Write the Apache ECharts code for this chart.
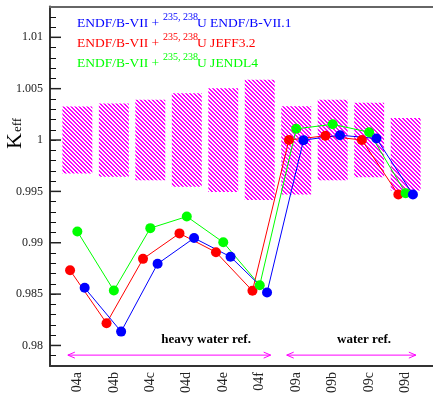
<!DOCTYPE html>
<html><head><meta charset="utf-8">
<script src="https://cdn.jsdelivr.net/npm/echarts@6/dist/echarts.min.js"></script>
<style>html,body{margin:0;padding:0;background:#fff}#c{width:433px;height:396px}</style>
</head><body><div id="c"></div>
<script>
const categories = ['04a','04b','04c','04d','04e','04f','09a','09b','09c','09d'];
const endfValues  = [0.98561,0.98135,0.98795,0.99046,0.98863,0.98516,0.99999,1.00047,1.00015,0.99469];
const jeffValues  = [0.98732,0.98217,0.98843,0.99091,0.98908,0.98532,1.00000,1.00041,1.00000,0.99469];
const jendlValues = [0.99110,0.98535,0.99142,0.99255,0.99004,0.98587,1.00109,1.00153,1.00076,0.99483];
const expLow  = [0.99675,0.99643,0.99608,0.99544,0.99495,0.99415,0.99469,0.99608,0.99637,0.99508];
const expHigh = [1.00326,1.00355,1.00391,1.00455,1.00504,1.00587,1.00330,1.00391,1.00362,1.00215];
const yTickValues = [0.98,0.985,0.99,0.995,1,1.005,1.01];
const yMinorTickValues = [0.979,0.981,0.982,0.983,0.984,0.986,0.987,0.988,0.989,0.991,0.992,0.993,0.994,
  0.996,0.997,0.998,0.999,1.001,1.002,1.003,1.004,1.006,1.007,1.008,1.009,1.011,1.012];
const regionNames = ['heavy water ref.','water ref.'];
const regionArrows = [[-0.26,5.30],[5.74,9.28]];
const regionLabelX = [3.53,7.86];
const arrowY = 0.97906;
const regionLabelY = 0.98059;
const X_MIN = -0.75, X_MAX = 9.75, Y_MIN = 0.978, Y_MAX = 1.013;

const FONT = "'Liberation Serif', 'Times New Roman', serif";
function makeHatch(){
  const c=document.createElement('canvas'); c.width=4; c.height=4;
  const g=c.getContext('2d'); g.fillStyle='#ff00ff';
  for(let i=0;i<4;i++){ g.fillRect(i,i,1,1); g.fillRect((i+1)%4,i,1,1); }
  return c;
}
const hatch = {image: makeHatch(), repeat:'repeat'};

const chart = echarts.init(document.getElementById('c'), null, {renderer:'canvas'});
function lineSeries(name, vals, off, color){
  return {name, type:'line', xAxisIndex:0, yAxisIndex:0,
    data: vals.map((v,i)=>[i+off, v]),
    symbol:'circle', symbolSize:10, showSymbol:true,
    lineStyle:{color, width:1}, itemStyle:{color}, z:5, clip:false, animation:false};
}
const legendLines = [
  {color:'#0000ff', tail:'U ENDF/B-VII.1'},
  {color:'#ff0000', tail:'U JEFF3.2'},
  {color:'#00ff00', tail:'U JENDL4'}
];
const graphics = [];
legendLines.forEach((l,k)=>{
  const y0 = 23.6 + 20*k;
  graphics.push({type:'text', x:77, y:y0, style:{text:'ENDF/B-VII +', fill:l.color, font:'13.5px '+FONT, textVerticalAlign:'middle', textAlign:'left'}});
  graphics.push({type:'text', x:163, y:y0-6.3, style:{text:'235, 238', fill:l.color, font:'10px '+FONT, textVerticalAlign:'middle', textAlign:'left'}});
  graphics.push({type:'text', x:197, y:y0, style:{text:l.tail, fill:l.color, font:'13.5px '+FONT, textVerticalAlign:'middle', textAlign:'left'}});
});
graphics.push({type:'group', x:15.5, y:135, rotation:Math.PI/2, children:[
  {type:'text', x:-6, y:0, style:{text:'K', fill:'#000', font:'22px '+FONT, textAlign:'center', textVerticalAlign:'middle'}},
  {type:'text', x:10, y:2.5, style:{text:'eff', fill:'#000', font:'13px '+FONT, textAlign:'center', textVerticalAlign:'middle'}}
]});

const allTicks = yTickValues.concat(yMinorTickValues).sort((a,b)=>a-b);
const option = {
  animation:false,
  backgroundColor:'#fff',
  grid:{left:50, top:6.5, width:385, height:363.3, containLabel:false},
  xAxis:[
    {type:'value', min:X_MIN, max:X_MAX, position:'bottom',
     axisLine:{show:true, onZero:false, lineStyle:{color:'#333', width:2}},
     axisTick:{show:false}, splitLine:{show:false},
     axisLabel:{customValues: categories.map((c,i)=>i), rotate:90, margin:6, padding:[0,0,9,0],
       formatter:(v)=>categories[Math.round(v)], fontFamily:FONT, fontSize:14, color:'#222'}},
    {type:'value', min:X_MIN, max:X_MAX, position:'top',
     axisLine:{show:true, onZero:false, lineStyle:{color:'#666', width:2}},
     axisTick:{show:false}, axisLabel:{show:false}, splitLine:{show:false}}
  ],
  yAxis:[
    {type:'value', min:Y_MIN, max:Y_MAX, position:'left',
     axisLine:{show:true, onZero:false, lineStyle:{color:'#333', width:2}},
     axisTick:{show:true, inside:true, length:6, customValues:allTicks, lineStyle:{color:'#111', width:1}},
     axisLabel:{customValues:yTickValues, margin:7, formatter:(v)=>String(+(+v).toFixed(3)), fontFamily:FONT, fontSize:12, color:'#222'},
     splitLine:{show:false}}
  ],
  graphic: graphics,
  series:[
    {type:'custom', xAxisIndex:0, yAxisIndex:0, z:1,
     data: categories.map((c,i)=>[i, expLow[i], expHigh[i]]),
     encode:{x:0, y:[1,2]},
     renderItem:(params, api)=>{
       const i=api.value(0);
       const p1=api.coord([i-0.41, api.value(2)]);
       const p2=api.coord([i+0.41, api.value(1)]);
       return {type:'rect', shape:{x:p1[0], y:p1[1], width:p2[0]-p1[0], height:p2[1]-p1[1]}, style:{fill:hatch}};
     }},
    lineSeries('JEFF3.2', jeffValues, -0.2, '#ff0000'),
    lineSeries('JENDL4', jendlValues, 0, '#00ff00'),
    lineSeries('ENDF/B-VII.1', endfValues, 0.2, '#0000ff'),
    {type:'custom', xAxisIndex:0, yAxisIndex:0, z:3, clip:false,
     data: regionArrows.map(r=>[r[0], r[1], arrowY]),
     renderItem:(params, api)=>{
       const a=api.coord([api.value(0), api.value(2)]);
       const b=api.coord([api.value(1), api.value(2)]);
       const st={stroke:'#ff00ff', lineWidth:1, fill:null};
       const kids=[
         {type:'line', shape:{x1:a[0], y1:a[1], x2:b[0], y2:b[1]}, style:st},
         {type:'polyline', shape:{points:[[a[0]+7,a[1]-3],[a[0],a[1]],[a[0]+7,a[1]+3]]}, style:st},
         {type:'polyline', shape:{points:[[b[0]-7,b[1]-3],[b[0],b[1]],[b[0]-7,b[1]+3]]}, style:st}
       ];
       if (params.dataIndex === 0) {
         yTickValues.forEach(v=>{
           const p=api.coord([X_MIN, v]);
           kids.push({type:'line', shape:{x1:p[0], y1:p[1], x2:p[0]+11, y2:p[1]}, style:{stroke:'#222', lineWidth:1.5}});
         });
       }
       return {type:'group', children:kids};
     }},
    {type:'custom', xAxisIndex:0, yAxisIndex:0, z:3, clip:false,
     data: regionLabelX.map(x=>[x, regionLabelY]),
     renderItem:(params, api)=>{
       const p=api.coord([api.value(0), api.value(1)]);
       return {type:'text', x:p[0], y:p[1], style:{text:regionNames[params.dataIndex], fill:'#000', font:'bold 13px '+FONT, textAlign:'center', textVerticalAlign:'middle'}};
     }}
  ]
};
chart.setOption(option);
</script>
</body></html>
